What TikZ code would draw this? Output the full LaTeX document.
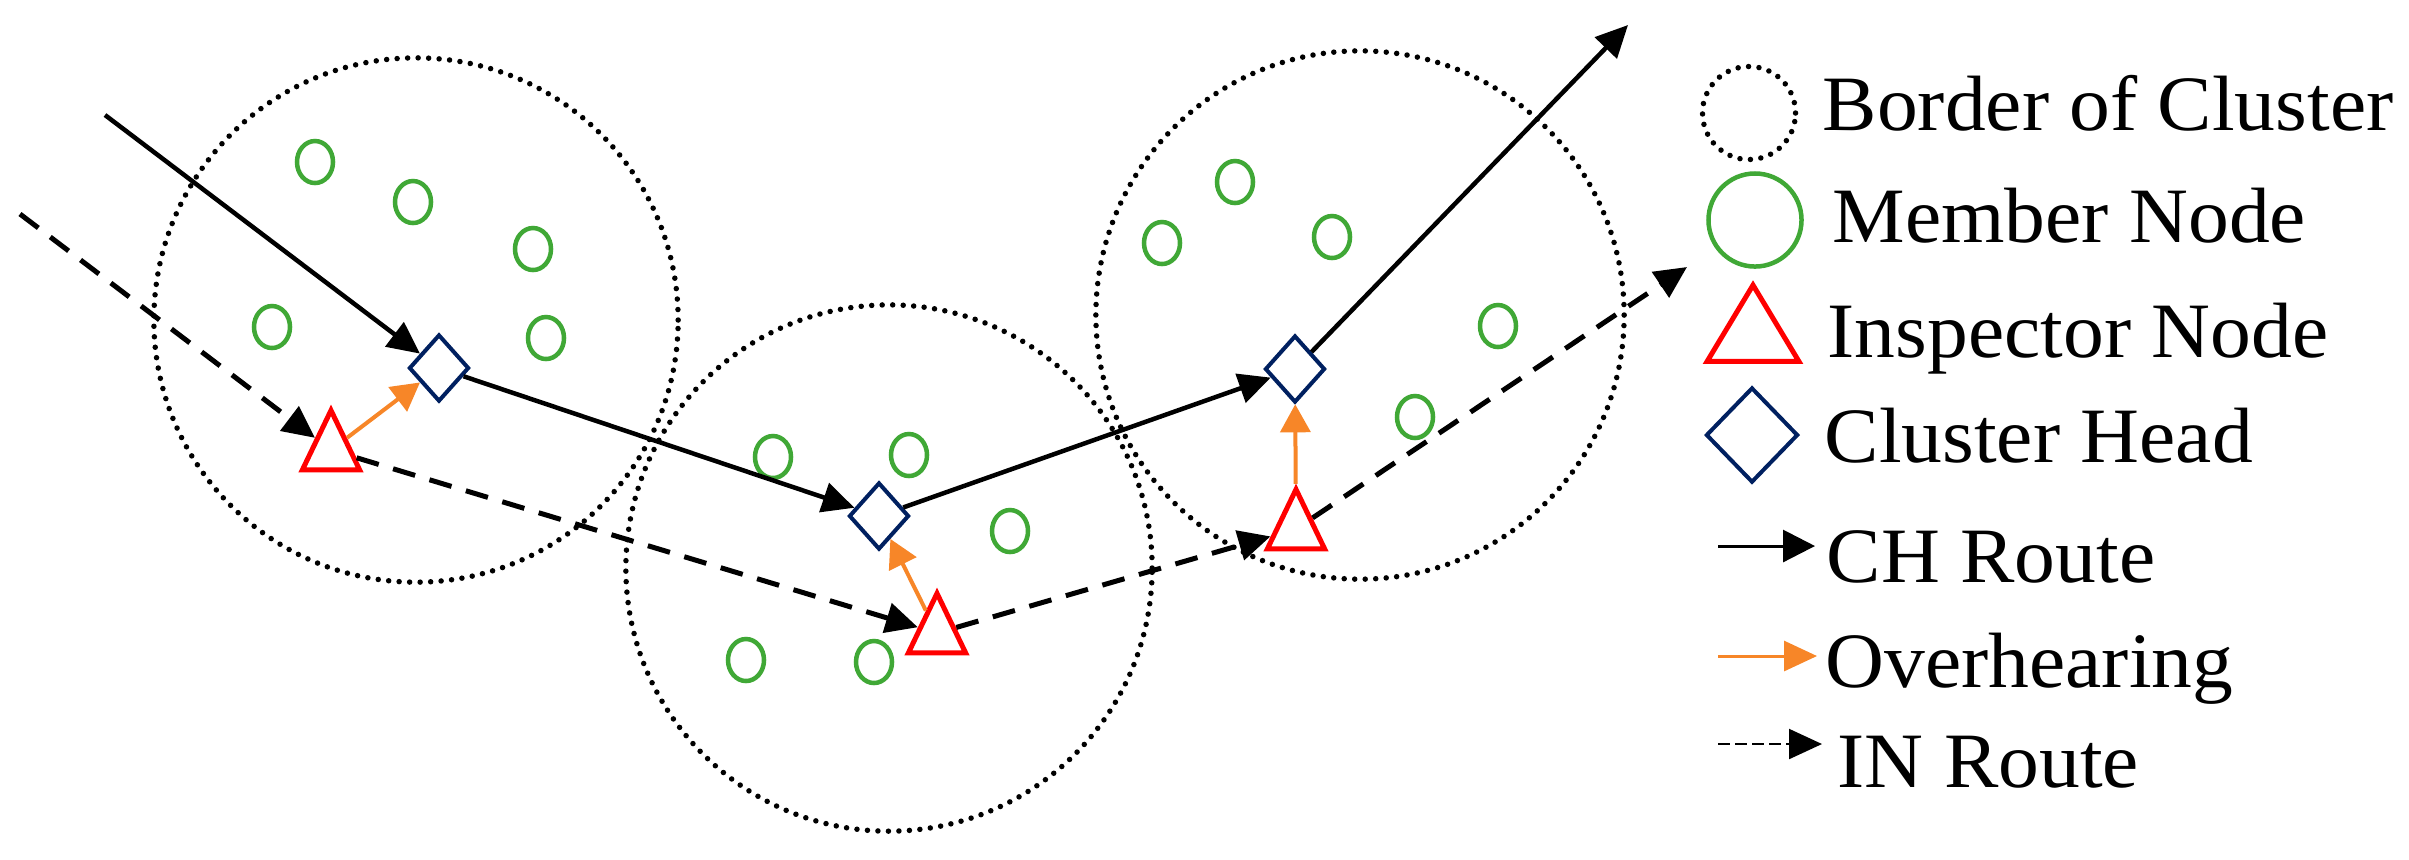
\documentclass[tikz,border=0pt]{standalone}
\usepackage{fontspec}
\setmainfont{Liberation Serif}[FakeStretch=1.04]
\usetikzlibrary{shapes.geometric,arrows.meta}
\definecolor{memgreen}{RGB}{64,168,54}
\definecolor{inred}{RGB}{255,0,0}
\definecolor{chblue}{RGB}{0,32,96}
\definecolor{ovorange}{RGB}{247,134,40}
\begin{document}
\begin{tikzpicture}[x=0.01cm,y=-0.01cm,
  cluster/.style={draw=black, circle, inner sep=0, line width=0.055cm, line cap=round, dash pattern=on 0pt off 0.105cm},
  member/.style={draw=memgreen, ellipse, line width=0.045cm, inner sep=0, minimum width=0.36cm, minimum height=0.42cm},
  inspector/.style={draw=inred, regular polygon, regular polygon sides=3, line width=0.05cm, inner sep=0},
  head/.style={draw=chblue, diamond, line width=0.04cm, inner sep=0},
  chroute/.style={draw=black, line width=0.045cm, -{Triangle[length=0.32cm,width=0.3cm]}},
  inroute/.style={draw=black, line width=0.05cm, dash pattern=on 0.23cm off 0.15cm, -{Triangle[length=0.32cm,width=0.3cm]}},
  ovh/.style={draw=ovorange, line width=0.04cm, -{Triangle[length=0.28cm,width=0.3cm]}},
  lbl/.style={anchor=base west, inner sep=0, font=\fontsize{22.3}{26}\selectfont}
]
\useasboundingbox (0,0) rectangle (2409,859);

% cluster borders
\node[cluster, minimum size=5.24cm] (c1) at (416,320) {};
\node[cluster, minimum size=5.26cm] (c2) at (889,568) {};
\node[cluster, minimum size=5.28cm] (c3) at (1360,315) {};

% member nodes
\node[member] (m11) at (315,162) {};
\node[member] (m12) at (413,202) {};
\node[member] (m13) at (533,249) {};
\node[member] (m14) at (272,327) {};
\node[member] (m15) at (546,338) {};
\node[member] (m21) at (773,457) {};
\node[member] (m22) at (909,455) {};
\node[member] (m23) at (1010,531) {};
\node[member] (m24) at (746,660) {};
\node[member] (m25) at (874,662) {};
\node[member] (m31) at (1162,243) {};
\node[member] (m32) at (1235,182) {};
\node[member] (m33) at (1332,237) {};
\node[member] (m34) at (1498,326) {};
\node[member] (m35) at (1415,417) {};

% cluster heads
\node[head, minimum width=0.6cm, minimum height=0.67cm] (d1) at (439,368) {};
\node[head, minimum width=0.6cm, minimum height=0.67cm] (d2) at (879,516) {};
\node[head, minimum width=0.6cm, minimum height=0.67cm] (d3) at (1295,369) {};

% inspector nodes
\node[inspector, minimum size=0.66cm, yscale=1.2] (t1) at (331,450) {};
\node[inspector, minimum size=0.66cm, yscale=1.2] (t2) at (937,633) {};
\node[inspector, minimum size=0.66cm, yscale=1.2] (t3) at (1296,529) {};

% free ends
\coordinate (chs) at (105,115);
\coordinate (che) at (1628,25);
\coordinate (ins) at (20,214);
\coordinate (ine) at (1687,267);

% CH route
\draw[chroute] (chs) -- (d1);
\draw[chroute] (d1) -- (d2);
\draw[chroute] (d2) -- (d3);
\draw[chroute] (d3) -- (che);

% IN route
\draw[inroute] (ins) -- (t1);
\draw[inroute] (t1) -- (t2);
\draw[inroute] (t2) -- (t3);
\draw[inroute] (t3) -- (ine);

% overhearing
\draw[ovh] (t1) -- (d1);
\draw[ovh] (t2) -- (d2);
\draw[ovh] (t3) -- (d3);

% legend
\node[cluster, minimum size=0.93cm] (lb) at (1749,113) {};
\node[member, minimum width=0.93cm, minimum height=0.93cm] (lm) at (1755,220) {};
\node[inspector, minimum size=1.06cm, yscale=0.96] (li) at (1753,336) {};
\node[head, minimum width=0.92cm, minimum height=0.95cm] (lh) at (1752,435) {};

\node[lbl] (tb) at (1822,130) {Border of Cluster};
\node[lbl] (tm) at (1832,242) {Member Node};
\node[lbl] (ti) at (1827,357) {Inspector Node};
\node[lbl] (th) at (1824,462) {Cluster Head};
\node[lbl] (tc) at (1826,582) {CH Route};
\node[lbl] (to) at (1825,687) {Overhearing};
\node[lbl] (tr) at (1837,787) {IN Route};

\coordinate (la1) at (1718,546);
\coordinate (lb1) at (1815,546);
\coordinate (la2) at (1718,656);
\coordinate (lb2) at (1817,656);
\coordinate (la3) at (1718,744);
\coordinate (lb3) at (1822,744);
\draw[draw=black, line width=0.03cm, -{Triangle[length=0.32cm,width=0.32cm]}] (la1) -- (lb1);
\draw[draw=ovorange, line width=0.03cm, -{Triangle[length=0.33cm,width=0.3cm]}] (la2) -- (lb2);
\draw[draw=black, line width=0.022cm, dash pattern=on 0.12cm off 0.05cm, -{Triangle[length=0.33cm,width=0.3cm]}] (la3) -- (lb3);
\end{tikzpicture}
\end{document}
